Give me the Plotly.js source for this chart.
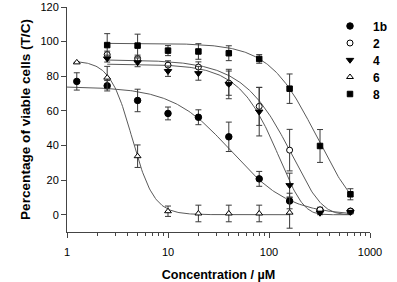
<!DOCTYPE html>
<html><head><meta charset="utf-8">
<script src="https://cdn.plot.ly/plotly-3.0.1.min.js"></script>
<style>html,body{margin:0;padding:0;background:#fff}#chart{width:397px;height:282px}</style>
</head><body><div id="chart"></div>
<script>
// ---- data ----
const seriesNames = ['1b', '2', '4', '6', '8'];
const concentrations = [1.25, 2.5, 5, 10, 20, 40, 80, 160, 320, 640];
const values1b = [77, 74.5, 66, 58.5, 56.3, 45, 20.7, 7.9, 2.5, 2];
const errors1b = [5, 3, 6.5, 3.7, 4.3, 8.5, 4.3, 4.5, 1, 1];
const values2 = [null, 92.5, 90.2, 86.4, 85.3, 76, 62.6, 37.3, 2.8, 2];
const errors2 = [0, 2, 2, 2.5, 3, 7, 11, 12, 1.5, 1];
const values4 = [null, 90.2, 88, 82.9, 81.7, 75.5, 59.5, 17, 1, 1.5];
const errors4 = [0, 2, 2.5, 3, 4, 8.5, 14, 7, 1, 1];
const values6 = [88, 79.2, 33.8, 2, 0.7, 0.7, 0.7, 1.2, null, null];
const errors6 = [0, 6.5, 6.5, 3, 4.8, 4.8, 4.8, 9, 0, 0];
const values8 = [null, 98, 97.7, 94.8, 94.3, 93.3, 90, 72.8, 39.7, 11.8];
const errors8 = [0, 6.6, 6.6, 2.9, 4.5, 4.3, 2.5, 8.5, 9.5, 3.2];

// fitted-curve parameters (estimated from the drawn curves)
const curveModel  = ['hill', 'gompertz', 'gompertz', 'hill', 'hill'];
const curveTop    = [74, 89.5, 87, 89, 99];
const curveBottom = [-0.5, 0, 0, 0, -10];
const curveMid    = [42, 173.8, 128.5, 4.4, 300];   // IC50 / inflection concentration
const curveSlope  = [1.5, 3.5, 4.3, 4, 1.83];
const curveFrom   = [1, 2.5, 2.5, 1.25, 2.5];
const curveTo     = [640, 640, 640, 160, 640];

const xTickVals = [1, 10, 100, 1000];
const xTickText = ['1', '10', '100', '1000'];
const yTickVals = [0, 20, 40, 60, 80, 100, 120];

// ---- styling ----
const valueSets = [values1b, values2, values4, values6, values8];
const errorSets = [errors1b, errors2, errors4, errors6, errors8];
const markerSymbols = ['circle', 'circle', 'triangle-down', 'triangle-up', 'square'];
const markerFills = ['#000000', '#ffffff', '#000000', '#ffffff', '#000000'];
const markerSizes = [6.5, 6, 6.5, 6, 5.5];

function curveValue(i, x) {
  if (curveModel[i] === 'hill') {
    return curveBottom[i] + (curveTop[i] - curveBottom[i]) / (1 + Math.pow(x / curveMid[i], curveSlope[i]));
  }
  const u = Math.log10(x) - Math.log10(curveMid[i]);
  return curveBottom[i] + (curveTop[i] - curveBottom[i]) * Math.exp(-Math.exp(curveSlope[i] * u));
}

const traces = [];
for (let i = 0; i < seriesNames.length; i++) {
  const cx = [], cy = [];
  const a = Math.log10(curveFrom[i]), b = Math.log10(curveTo[i]);
  for (let k = 0; k <= 200; k++) {
    const x = Math.pow(10, a + (b - a) * k / 200);
    cx.push(x); cy.push(curveValue(i, x));
  }
  traces.push({x: cx, y: cy, mode: 'lines', showlegend: false, hoverinfo: 'skip',
    line: {color: '#5a5a5a', width: 1}});
}
for (let i = 0; i < seriesNames.length; i++) {
  const xs = [], ys = [], es = [];
  concentrations.forEach((c, j) => {
    if (valueSets[i][j] !== null) { xs.push(c); ys.push(valueSets[i][j]); es.push(errorSets[i][j]); }
  });
  traces.push({x: xs, y: ys, name: seriesNames[i], mode: 'markers', type: 'scatter',
    error_y: {type: 'data', array: es, visible: true, color: '#3a3a3a', thickness: 1, width: 3},
    marker: {symbol: markerSymbols[i], size: markerSizes[i], color: markerFills[i],
      line: {color: '#000000', width: 1}}});
}

const font = 'Liberation Sans, Arial, sans-serif';
const layout = {
  width: 397, height: 282,
  margin: {l: 67, r: 18, t: 7, b: 50},
  paper_bgcolor: '#ffffff', plot_bgcolor: '#ffffff',
  font: {family: font, size: 11, color: '#000'},
  showlegend: true,
  legend: {x: 0.868, y: 0.98, xanchor: 'left', yanchor: 'top', bgcolor: 'rgba(0,0,0,0)',
    font: {family: font, size: 12, color: '#000', weight: 'bold'}, tracegroupgap: 0, itemwidth: 30},
  xaxis: {type: 'log', range: [0, 3], showgrid: false, zeroline: false, showline: true,
    linecolor: '#444', linewidth: 1, ticks: 'outside', ticklen: 5, tickcolor: '#444',
    ticklabelstandoff: 5,
    tickvals: xTickVals, ticktext: xTickText, tickfont: {size: 11, family: font},
    minor: {ticks: 'outside', ticklen: 3, tickcolor: '#444',
      tickvals: [2,3,4,5,6,7,8,9,20,30,40,50,60,70,80,90,200,300,400,500,600,700,800,900]},
    title: {text: 'Concentration / µM', font: {size: 12.6, family: font, weight: 'bold'}, standoff: 12}},
  yaxis: {range: [-10, 120], showgrid: false, zeroline: false, showline: true,
    linecolor: '#444', linewidth: 1, ticks: 'outside', ticklen: 5, tickcolor: '#444',
    tickvals: yTickVals, tickfont: {size: 11, family: font},
    title: {text: 'Percentage of viable cells (T/C)', font: {size: 13.6, family: font, weight: 'bold'}, standoff: 6}}
};
Plotly.newPlot('chart', traces, layout, {staticPlot: true}).then(function (gd) {
  // tighten legend row spacing to match the reference (17 px per row)
  const items = gd.querySelectorAll('.legend .traces');
  let y0 = null;
  items.forEach(function (el, i) {
    const m = /translate\(\s*([-\d.]+)[ ,]+([-\d.]+)\s*\)/.exec(el.getAttribute('transform') || '');
    if (!m) return;
    if (y0 === null) y0 = parseFloat(m[2]);
    el.setAttribute('transform', 'translate(' + m[1] + ',' + (y0 + i * 17) + ')');
    const t = el.querySelector('text.legendtext');
    if (t) t.setAttribute('x', String(parseFloat(t.getAttribute('x') || '40') + 3));
  });
});
</script></body></html>
